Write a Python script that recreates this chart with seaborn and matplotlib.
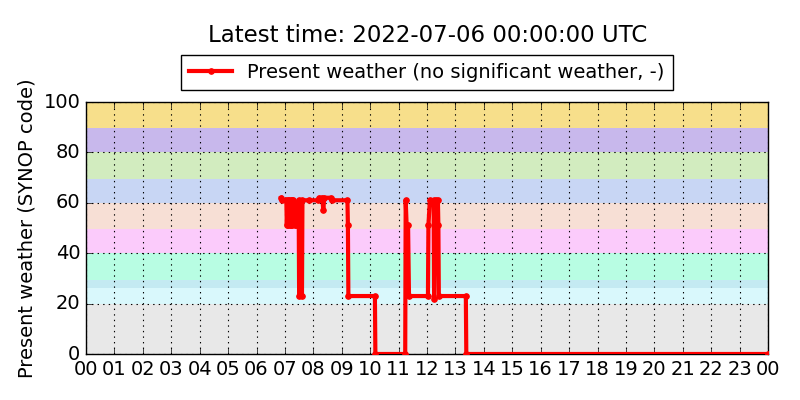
import matplotlib
matplotlib.use("Agg")
import matplotlib.pyplot as plt
import seaborn as sns
import pandas as pd

# ---- data ----
times = ["06:52", "06:54", "07:03", "07:04", "07:06", "07:07", "07:09", "07:10",
         "07:12", "07:13", "07:15", "07:16", "07:18", "07:21", "07:24", "07:29",
         "07:30", "07:36", "07:37", "07:50", "08:10", "08:12", "08:19", "08:21",
         "08:23", "08:38", "08:40", "09:12", "09:13", "09:14", "10:10", "10:11",
         "11:14", "11:15", "11:17", "11:20", "11:22", "12:02", "12:03", "12:06",
         "12:14", "12:15", "12:18", "12:23", "12:24", "12:25",
         "13:22", "13:23", "23:59"]
values = [62, 61, 61, 51, 61, 51, 61, 51,
          61, 51, 61, 51, 61, 51, 51, 61,
          23, 23, 61, 61, 61, 62, 62, 57,
          62, 62, 61, 61, 51, 23, 23, 0,
          0, 61, 51, 51, 23, 23, 51, 61,
          61, 22, 61, 61, 51, 23,
          23, 0, 0]
band_edges = [0, 20, 26, 29.5, 40, 49.5, 60, 69.5, 80, 89.7, 100]
band_colors = ["#e8e8e8", "#d9f8fc", "#c4eaf2", "#b8fde3", "#fbcbfb",
               "#f7dfd5", "#c8d6f4", "#d2ecbf", "#c8b8ec", "#f7df8b"]
hour_ticks = list(range(25))
hour_labels = [f"{h % 24:02d}" for h in hour_ticks]
y_ticks = [0, 20, 40, 60, 80, 100]
title = "Latest time: 2022-07-06 00:00:00 UTC"
series_label = "Present weather (no significant weather, -)"
ylabel = "Present weather (SYNOP code)"

hours = [int(t[:2]) + int(t[3:]) / 60 for t in times]
df = pd.DataFrame({"hour": hours, "code": values})

plt.style.use("classic")
plt.rcParams["font.family"] = ["DejaVu Sans"]
fig = plt.figure(figsize=(8, 4), dpi=100, facecolor="white")
ax = fig.add_axes([0.1075, 0.115, 0.8525, 0.63])
ax.set_axisbelow("line")

for lo, hi, c in zip(band_edges[:-1], band_edges[1:], band_colors):
    ax.axhspan(lo, hi, color=c, lw=0, zorder=0.5)

sns.lineplot(data=df, x="hour", y="code", ax=ax, color="red", lw=3,
             marker=".", markersize=8, markeredgecolor="red",
             label=series_label, estimator=None, sort=False, zorder=3)

ax.set_xlim(0, 24)
ax.set_ylim(0, 100)
ax.set_xticks(hour_ticks)
ax.set_xticklabels(hour_labels, fontsize=14)
ax.set_yticks(y_ticks)
ax.set_yticklabels([str(v) for v in y_ticks], fontsize=14)
ax.set_xlabel("")
ax.set_ylabel(ylabel, fontsize=14)
ax.grid(True, color="k", linestyle=":", lw=0.8)
ax.tick_params(direction="in", top=True, right=False, length=4)

ax.legend(loc="center", bbox_to_anchor=(0.5, 1.118), numpoints=1,
          fontsize=14, frameon=True, fancybox=False, borderaxespad=0,
          handlelength=2.2, borderpad=0.4)
fig.text(0.534, 0.911, title, ha="center", va="center", fontsize=16.5)

fig.savefig("out.png", dpi=100, facecolor="white")
